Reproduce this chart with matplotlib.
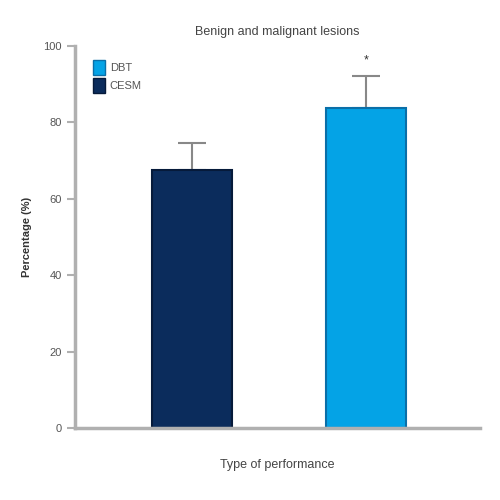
import matplotlib
matplotlib.use("Agg")
import matplotlib.pyplot as plt
import matplotlib.font_manager as _fm
from matplotlib.patches import Patch

for _font in ["Liberation Sans Narrow", "Liberation Sans", "DejaVu Sans"]:
    if any(f.name == _font for f in _fm.fontManager.ttflist):
        matplotlib.rcParams["font.family"] = _font
        break

# data
groups = ["CESM", "DBT"]
values = [67.5, 83.8]
err_up = [7.1, 8.4]
colors = ["#0b2c5c", "#04a3e6"]
edges = ["#061a3a", "#0a6fa8"]
legend_order = ["DBT", "CESM"]
stars = ["", "*"]

GREY = "#b0b0b0"
TXT = "#555555"

fig = plt.figure(figsize=(5, 5), dpi=100)
ax = fig.add_axes([0.15, 0.144, 0.81, 0.764])

pos = list(range(len(groups)))
ax.bar(pos, values, width=0.46, color=colors, edgecolor=edges, linewidth=1.5, zorder=2)
ax.errorbar(pos, values, yerr=[[0] * len(err_up), err_up], fmt="none",
            ecolor="#888888", elinewidth=1.5, capsize=10, capthick=1.5, zorder=1)
for p, v, e, s in zip(pos, values, err_up, stars):
    if s:
        ax.text(p, v + e + 2.5, s, ha="center", va="bottom", fontsize=9, color="#333333")

ax.set_xlim(-0.672, 1.655)
ax.set_ylim(0, 100)
ax.set_yticks([0, 20, 40, 60, 80, 100])
ax.set_xticks([])

for side in ["top", "right"]:
    ax.spines[side].set_visible(False)
for side in ["left", "bottom"]:
    ax.spines[side].set_color(GREY)
    ax.spines[side].set_linewidth(2.5)
ax.tick_params(axis="y", colors=GREY, length=6, width=1.5, labelcolor=TXT, labelsize=8)

ax.set_title("Benign and malignant lesions", fontsize=9, color="#444444", pad=8)
ax.set_xlabel("Type of performance", fontsize=9, color="#444444", labelpad=22)
ax.set_ylabel("Percentage (%)", fontsize=8, color="#333333", fontweight="bold", labelpad=8)

handles = [Patch(facecolor=colors[groups.index(g)], edgecolor=edges[groups.index(g)]) for g in legend_order]
ax.legend(handles, legend_order, loc="upper left", bbox_to_anchor=(0.02, 0.99), frameon=False,
          fontsize=8, handlelength=1.1, handleheight=1.7, handletextpad=0.4,
          labelspacing=0.3, labelcolor=TXT)

fig.savefig("out.png", dpi=100)
